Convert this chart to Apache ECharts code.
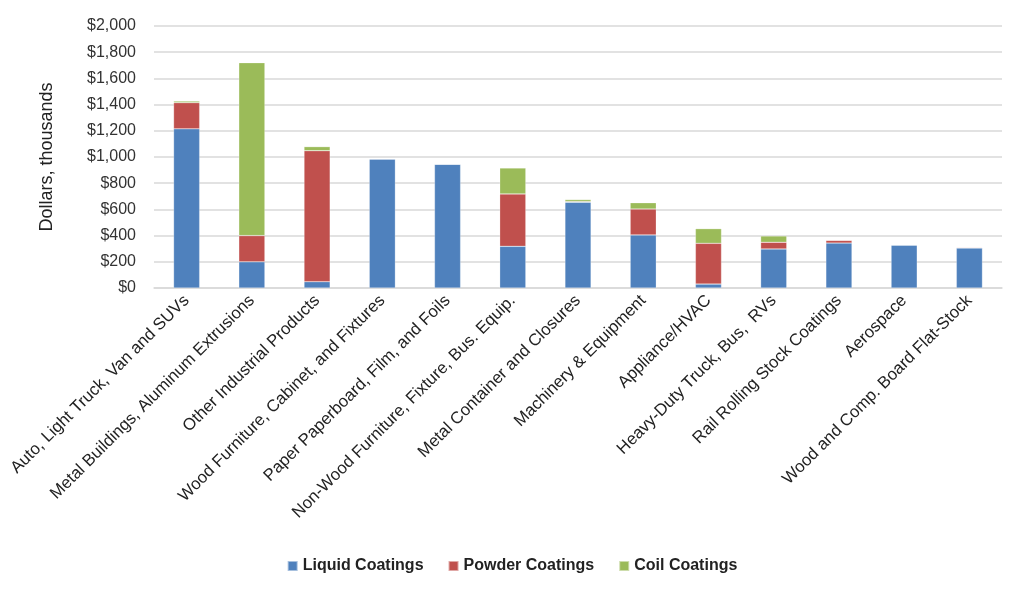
<!DOCTYPE html>
<html><head><meta charset="utf-8">
<script src="https://cdn.jsdelivr.net/npm/echarts@6/dist/echarts.min.js"></script>
<style>html,body{margin:0;padding:0;background:#fff}#c{width:1024px;height:596px}</style>
</head><body><div id="c"></div>
<script>
const categories = ["Auto, Light Truck, Van and SUVs","Metal Buildings, Aluminum Extrusions","Other Industrial Products","Wood Furniture, Cabinet, and Fixtures","Paper Paperboard, Film, and Foils","Non-Wood Furniture, Fixture, Bus. Equip.","Metal Container and Closures","Machinery & Equipment","Appliance/HVAC","Heavy-Duty Truck, Bus,  RVs","Rail Rolling Stock Coatings","Aerospace","Wood and Comp. Board Flat-Stock"];
const liquid = [1215, 200, 48, 985, 945, 318, 655, 405, 30, 298, 343, 328, 305];
const powder = [200, 200, 1000, 0, 0, 400, 5, 198, 311, 51, 21, 0, 5];
const coil = [12, 1320, 31, 0, 0, 198, 15, 48, 112, 48, 0, 0, 0];
const yTicks = [0, 200, 400, 600, 800, 1000, 1200, 1400, 1600, 1800, 2000];

const font = "Liberation Sans, sans-serif";
const chart = echarts.init(document.getElementById('c'));
function s(name, data, color){
  return {name, type:'bar', stack:'t', data, barWidth:'40%',
    itemStyle:{color, borderColor:'rgba(255,255,255,0.5)', borderWidth:0.5}};
}
chart.setOption({
  animation:false,
  textStyle:{fontFamily:font},
  grid:{left:154, right:22, top:26, bottom:308},
  legend:{bottom:17, left:'center', itemWidth:10, itemHeight:10, itemGap:24, icon:'rect',
    textStyle:{fontFamily:font, fontSize:16, fontWeight:'bold', color:'#222'}},
  xAxis:{type:'category', data:categories,
    axisLine:{lineStyle:{color:'#d9d9d9', width:1.5}}, axisTick:{show:false},
    axisLabel:{rotate:45, interval:0, fontSize:16.8, color:'#222', margin:10, fontFamily:font}},
  yAxis:{type:'value', min:yTicks[0], max:yTicks[yTicks.length-1], interval:200,
    name:'Dollars, thousands', nameLocation:'middle', nameGap:98, nameRotate:90,
    nameTextStyle:{fontSize:18, color:'#222', fontFamily:font},
    axisLine:{show:false}, axisTick:{show:false},
    splitLine:{lineStyle:{color:'#d9d9d9', width:1.5}},
    axisLabel:{fontSize:16, color:'#333', margin:18, fontFamily:font,
      formatter:v=>'$'+v.toLocaleString('en-US')}},
  series:[s('Liquid Coatings', liquid, '#4F81BD'), s('Powder Coatings', powder, '#C0504D'), s('Coil Coatings', coil, '#9BBB59')]
});
</script></body></html>
